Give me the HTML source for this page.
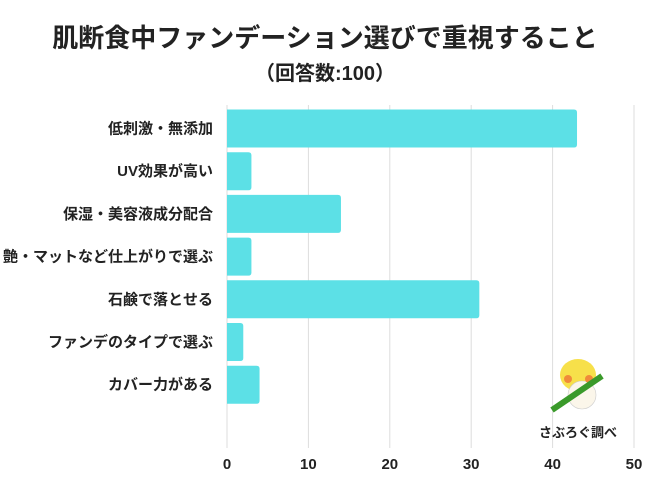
<!DOCTYPE html>
<html><head><meta charset="utf-8"><style>
body{margin:0;width:650px;height:488px;background:#fff;overflow:hidden;font-family:"Liberation Sans","Noto Sans CJK JP",sans-serif}
</style></head><body>
<svg id="c" width="650" height="488">
<text x="325" y="47" text-anchor="middle" font-size="26" font-weight="bold" fill="#222">肌断食中ファンデーション選びで重視すること</text>
<text x="325" y="80" text-anchor="middle" font-size="20" font-weight="bold" fill="#222">（回答数:100）</text>
<g id="grid"></g><g id="bars"></g><g id="labels"></g><g id="ticks"></g>
<g>
<ellipse cx="578" cy="375" rx="18" ry="16" fill="#f7e04a"/>
<ellipse cx="582" cy="395" rx="14" ry="14" fill="#fbf6ea" stroke="#ccc" stroke-width="0.6"/>
<circle cx="568" cy="379" r="4" fill="#f08a3a"/>
<circle cx="589" cy="379" r="4" fill="#f08a3a"/>
<line x1="552" y1="410" x2="602" y2="376" stroke="#3a9a2a" stroke-width="6"/>
<text x="578" y="437" text-anchor="middle" font-size="13" font-weight="bold" fill="#222">さぶろぐ調べ</text>
</g>
</svg>
<script>
const categories=["低刺激・無添加","UV効果が高い","保湿・美容液成分配合","艶・マットなど仕上がりで選ぶ","石鹸で落とせる","ファンデのタイプで選ぶ","カバー力がある"];
const values=[43,3,14,3,31,2,4];
const ticks=[0,10,20,30,40,50];
const NS="http://www.w3.org/2000/svg";
const x0=227,x1=634,xmax=50;
const xs=v=>x0+(x1-x0)*v/xmax;
const y0=128.5,pitch=42.7,bh=38;
const ys=i=>y0+i*pitch;
function mk(t,a,p){const e=document.createElementNS(NS,t);for(const k in a)e.setAttribute(k,a[k]);document.getElementById(p).appendChild(e);return e;}
ticks.forEach(t=>{
 const g=mk('line',{x1:xs(t),x2:xs(t),y1:105,y2:448,stroke:'#ddd','stroke-width':1},'grid');
 
 
 const l=mk('text',{x:xs(t),y:469,'text-anchor':'middle','font-size':15,'font-weight':'bold',fill:'#222'},'ticks');
 l.textContent=t;
 
 
});
values.forEach((v,i)=>{
 const w=xs(v)-x0,y=ys(i)-bh/2;
 const p=mk('path',{d:`M${x0},${y}H${x0+w-3}Q${x0+w},${y} ${x0+w},${y+3}V${y+bh-3}Q${x0+w},${y+bh} ${x0+w-3},${y+bh}H${x0}Z`,fill:'#5ce0e6'},'bars');
 
 
 const l=mk('text',{x:213,y:ys(i)+5,'text-anchor':'end','font-size':15,'font-weight':'bold',fill:'#222'},'labels');
 l.textContent=categories[i];
 
 
});
</script>
</body></html>
